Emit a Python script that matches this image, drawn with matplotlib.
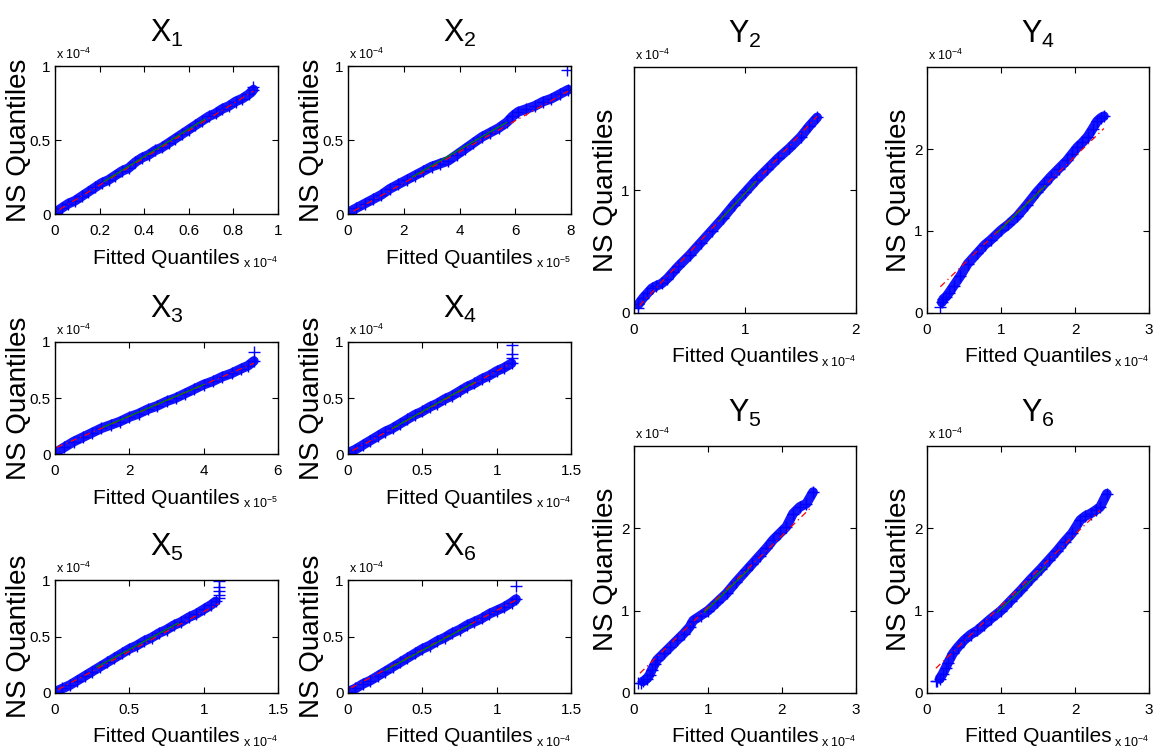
import matplotlib
matplotlib.use("Agg")
import matplotlib.pyplot as plt
from matplotlib.transforms import offset_copy

plt.rcParams['font.family'] = ['Liberation Sans', 'DejaVu Sans']
plt.rcParams['mathtext.fontset'] = 'custom'
plt.rcParams['mathtext.rm'] = 'Liberation Sans'
plt.rcParams['mathtext.it'] = 'Liberation Sans'

# quantile pairs (x in units of the x exponent, y in units of 1e-4)
x1_fit = [0.00, 0.03, 0.06, 0.09, 0.12, 0.15, 0.18, 0.21, 0.24, 0.27, 0.30, 0.33, 0.36, 0.39, 0.42, 0.45,
          0.48, 0.51, 0.54, 0.57, 0.60, 0.63, 0.66, 0.69, 0.72, 0.75, 0.78, 0.81, 0.84, 0.87, 0.89]
x1_ns = [0.01, 0.04, 0.07, 0.09, 0.12, 0.15, 0.18, 0.21, 0.23, 0.26, 0.29, 0.31, 0.35, 0.38, 0.40, 0.43,
         0.45, 0.48, 0.51, 0.54, 0.57, 0.60, 0.63, 0.66, 0.68, 0.71, 0.73, 0.76, 0.78, 0.81, 0.84]
x1_out_fit = [0.89]
x1_out_ns = [0.86]

x2_fit = [0.0, 0.3, 0.6, 0.9, 1.2, 1.5, 1.8, 2.1, 2.4, 2.7, 3.0, 3.3, 3.6, 3.9, 4.2, 4.5, 4.8, 5.1,
          5.4, 5.7, 5.9, 6.1, 6.4, 6.7, 7.0, 7.3, 7.6, 7.9]
x2_ns = [0.01, 0.04, 0.07, 0.10, 0.13, 0.17, 0.20, 0.23, 0.26, 0.29, 0.32, 0.34, 0.36, 0.40, 0.44, 0.48,
         0.52, 0.55, 0.58, 0.62, 0.66, 0.69, 0.71, 0.73, 0.76, 0.78, 0.81, 0.84]
x2_out_fit = [7.85]
x2_out_ns = [0.97]

x3_fit = [0.0, 0.25, 0.5, 0.75, 1.0, 1.25, 1.5, 1.75, 2.0, 2.25, 2.5, 2.75, 3.0, 3.25, 3.5, 3.75, 4.0,
          4.25, 4.5, 4.75, 5.0, 5.2, 5.35]
x3_ns = [0.01, 0.06, 0.11, 0.15, 0.19, 0.23, 0.26, 0.29, 0.33, 0.36, 0.40, 0.43, 0.47, 0.50, 0.54, 0.58,
         0.62, 0.65, 0.69, 0.72, 0.76, 0.79, 0.83]
x3_out_fit = [5.35]
x3_out_ns = [0.91]

x4_fit = [0.0, 0.05, 0.1, 0.15, 0.2, 0.25, 0.3, 0.35, 0.4, 0.45, 0.5, 0.55, 0.6, 0.65, 0.7, 0.75, 0.8,
          0.85, 0.9, 0.95, 1.0, 1.05, 1.1]
x4_ns = [0.01, 0.04, 0.08, 0.12, 0.16, 0.20, 0.23, 0.27, 0.31, 0.35, 0.38, 0.42, 0.45, 0.49, 0.52, 0.56,
         0.60, 0.63, 0.67, 0.70, 0.74, 0.77, 0.81]
x4_out_fit = [1.1, 1.1, 1.1]
x4_out_ns = [0.86, 0.89, 0.97]

x5_fit = [0.0, 0.05, 0.1, 0.15, 0.2, 0.25, 0.3, 0.35, 0.4, 0.45, 0.5, 0.55, 0.6, 0.65, 0.7, 0.75, 0.8,
          0.85, 0.9, 0.95, 1.0, 1.05, 1.08]
x5_ns = [0.01, 0.04, 0.07, 0.11, 0.15, 0.19, 0.23, 0.27, 0.31, 0.35, 0.39, 0.42, 0.46, 0.49, 0.53, 0.56,
         0.60, 0.63, 0.67, 0.70, 0.74, 0.78, 0.81]
x5_out_fit = [1.1, 1.1, 1.1, 1.1, 1.1]
x5_out_ns = [0.84, 0.87, 0.90, 0.94, 0.99]

x6_fit = [0.0, 0.05, 0.1, 0.15, 0.2, 0.25, 0.3, 0.35, 0.4, 0.45, 0.5, 0.55, 0.6, 0.65, 0.7, 0.75, 0.8,
          0.85, 0.9, 0.95, 1.0, 1.05, 1.1, 1.13]
x6_ns = [0.01, 0.04, 0.08, 0.11, 0.15, 0.19, 0.23, 0.27, 0.31, 0.35, 0.39, 0.42, 0.46, 0.49, 0.53, 0.56,
         0.60, 0.63, 0.66, 0.70, 0.73, 0.76, 0.80, 0.83]
x6_out_fit = [1.13]
x6_out_ns = [0.95]

y2_fit = [0.04, 0.08, 0.12, 0.16, 0.2, 0.25, 0.3, 0.35, 0.4, 0.5, 0.6, 0.7, 0.8, 0.9, 1.0, 1.1, 1.2, 1.3,
          1.4, 1.5, 1.58, 1.65]
y2_ns = [0.07, 0.12, 0.16, 0.20, 0.22, 0.24, 0.28, 0.33, 0.38, 0.47, 0.57, 0.67, 0.77, 0.88, 0.98, 1.08,
         1.17, 1.26, 1.34, 1.43, 1.52, 1.59]
y2_out_fit = [0.04]
y2_out_ns = [0.04]

y4_fit = [0.2, 0.22, 0.26, 0.3, 0.36, 0.45, 0.55, 0.68, 0.78, 0.86, 1.0, 1.1, 1.22, 1.35, 1.49, 1.58,
          1.67, 1.78, 1.89, 1.96, 2.03, 2.1, 2.17, 2.24, 2.3, 2.35, 2.39]
y4_ns = [0.13, 0.17, 0.20, 0.25, 0.33, 0.45, 0.60, 0.73, 0.83, 0.89, 1.01, 1.08, 1.18, 1.32, 1.48, 1.57,
         1.66, 1.76, 1.86, 1.94, 2.02, 2.08, 2.15, 2.25, 2.34, 2.38, 2.40]
y4_out_fit = [0.18]
y4_out_ns = [0.07]

y5_fit = [0.12, 0.17, 0.21, 0.24, 0.28, 0.31, 0.4, 0.49, 0.58, 0.67, 0.75, 0.8, 0.9, 1.0, 1.12,
          1.25, 1.38, 1.52, 1.6, 1.7, 1.79, 1.88, 1.97, 2.06, 2.15, 2.24, 2.33, 2.42]
y5_ns = [0.14, 0.17, 0.22, 0.28, 0.35, 0.40, 0.48, 0.56, 0.64, 0.72, 0.80, 0.88, 0.94, 1.00, 1.10,
         1.21, 1.35, 1.49, 1.57, 1.67, 1.76, 1.86, 1.94, 2.02, 2.18, 2.26, 2.30, 2.44]
y5_out_fit = [0.06, 0.1]
y5_out_ns = [0.12, 0.12]

y6_fit = [0.17, 0.21, 0.25, 0.28, 0.35, 0.42, 0.5, 0.59, 0.68, 0.77, 0.86, 1.0, 1.13, 1.27, 1.4,
          1.54, 1.65, 1.76, 1.86, 1.96, 2.07, 2.14, 2.21, 2.28, 2.34, 2.43]
y6_ns = [0.17, 0.23, 0.30, 0.36, 0.48, 0.56, 0.64, 0.71, 0.76, 0.83, 0.90, 1.00, 1.12, 1.25, 1.38,
         1.51, 1.62, 1.73, 1.84, 1.94, 2.10, 2.15, 2.18, 2.22, 2.26, 2.42]
y6_out_fit = [0.12, 0.14]
y6_out_ns = [0.15, 0.15]

# reference lines: (x0, y0, x1, y1)
red_lines = [(0.02, 0.03, 0.89, 0.83), (0.2, 0.02, 7.9, 0.83), (0.05, 0.06, 5.35, 0.81),
             (0.03, 0.03, 1.08, 0.80), (0.02, 0.03, 1.1, 0.79), (0.02, 0.045, 1.14, 0.83),
             (0.05, 0.06, 1.65, 1.6), (0.18, 0.32, 2.39, 2.25), (0.08, 0.24, 2.4, 2.26), (0.12, 0.3, 2.34, 2.22)]
green_lines = [(0.22, 0.22, 0.67, 0.64), (2.3, 0.25, 5.7, 0.62), (1.3, 0.24, 4.0, 0.62),
               (0.3, 0.23, 0.85, 0.64), (0.28, 0.23, 0.83, 0.62), (0.25, 0.2, 0.83, 0.61),
               (0.77, 0.75, 1.1, 1.07), (0.95, 0.98, 1.6, 1.55), (0.95, 0.98, 1.55, 1.5), (0.95, 0.98, 1.6, 1.53)]

titles = ['X_1', 'X_2', 'X_3', 'X_4', 'X_5', 'X_6', 'Y_2', 'Y_4', 'Y_5', 'Y_6']
fits = [x1_fit, x2_fit, x3_fit, x4_fit, x5_fit, x6_fit, y2_fit, y4_fit, y5_fit, y6_fit]
nss = [x1_ns, x2_ns, x3_ns, x4_ns, x5_ns, x6_ns, y2_ns, y4_ns, y5_ns, y6_ns]
out_fits = [x1_out_fit, x2_out_fit, x3_out_fit, x4_out_fit, x5_out_fit, x6_out_fit,
            y2_out_fit, y4_out_fit, y5_out_fit, y6_out_fit]
out_nss = [x1_out_ns, x2_out_ns, x3_out_ns, x4_out_ns, x5_out_ns, x6_out_ns,
           y2_out_ns, y4_out_ns, y5_out_ns, y6_out_ns]
x_exp = [-4, -5, -5, -4, -4, -4, -4, -4, -4, -4]
x_lims = [1, 8, 6, 1.5, 1.5, 1.5, 2, 3, 3, 3]
x_ticks = [[0, 0.2, 0.4, 0.6, 0.8, 1], [0, 2, 4, 6, 8], [0, 2, 4, 6], [0, 0.5, 1, 1.5], [0, 0.5, 1, 1.5],
           [0, 0.5, 1, 1.5], [0, 1, 2], [0, 1, 2, 3], [0, 1, 2, 3], [0, 1, 2, 3]]
y_lims = [1, 1, 1, 1, 1, 1, 2, 3, 3, 3]
y_ticks = [[0, 0.5, 1]] * 6 + [[0, 1]] + [[0, 1, 2]] * 3

# axes boxes in pixels: left, right, top, bottom
boxes = [(55, 278, 66, 214), (348, 571, 66, 214), (55, 278, 342, 454), (348, 571, 342, 454),
         (55, 278, 580, 693), (348, 571, 580, 693), (634, 856, 67, 313), (927, 1149, 67, 313),
         (634, 856, 446, 693), (927, 1149, 446, 693)]

W, H = 1156, 755
fig = plt.figure(figsize=(W / 100, H / 100), dpi=100)

for i in range(10):
    l, r, t, b = boxes[i]
    ax = fig.add_axes([l / W, 1 - b / H, (r - l) / W, (b - t) / H])
    # dense band of plus markers
    ax.plot(fits[i], nss[i], color='#1515ff', lw=7, solid_capstyle='round', zorder=1)
    ax.plot(fits[i], nss[i], '+', color='#0000ff', ms=9, mew=1.0, zorder=2)
    ax.plot(out_fits[i], out_nss[i], '+', color='#0000ff', ms=8, mew=1.0, zorder=2)
    x0, y0, x1, y1 = red_lines[i]
    ax.plot([x0, x1], [y0, y1], color='red', lw=0.9, linestyle=(0, (5, 3, 1, 3)), zorder=3)
    x0, y0, x1, y1 = green_lines[i]
    ax.plot([x0, x1], [y0, y1], color='#008000', lw=0.9, zorder=4)

    ax.set_xlim(0, x_lims[i])
    ax.set_ylim(0, y_lims[i])
    ax.set_xticks(x_ticks[i])
    ax.set_xticklabels([('%g' % v) for v in x_ticks[i]])
    ax.set_yticks(y_ticks[i])
    ax.set_yticklabels([('%g' % v) for v in y_ticks[i]])
    ax.tick_params(direction='in', top=True, right=True, length=4, width=0.8, labelsize=11)
    ax.tick_params(axis='x', pad=7)
    ax.tick_params(axis='y', pad=3)
    for s in ax.spines.values():
        s.set_linewidth(1.0)

    name, sub = titles[i].split('_')
    ax.set_title(r'$\mathrm{%s}_{%s}$' % (name, sub), fontsize=22, pad=17)

    ax.set_xlabel('Fitted Quantiles', fontsize=15, va='center')
    ax.xaxis.set_label_coords(0.5, 0, transform=offset_copy(ax.transAxes, fig, x=0, y=-44, units='dots'))
    dx = -36 if i < 6 else -28
    ax.set_ylabel('NS Quantiles', fontsize=20, va='center')
    ax.yaxis.set_label_coords(0, 0.5, transform=offset_copy(ax.transAxes, fig, x=dx, y=0, units='dots'))

    ax.text(0, 1, r'x 10$^{-4}$', fontsize=9, ha='left', va='bottom',
            transform=offset_copy(ax.transAxes, fig, x=1, y=4, units='dots'))
    ax.text(1, 0, r'x 10$^{%d}$' % x_exp[i], fontsize=9, ha='right', va='center',
            transform=offset_copy(ax.transAxes, fig, x=0, y=-49, units='dots'))

fig.savefig('out.png', dpi=100)
